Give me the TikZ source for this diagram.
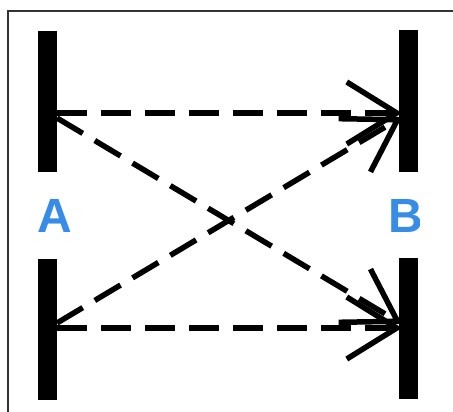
\documentclass[tikz,border=0pt]{standalone}
\usepackage{fontspec}
\setmainfont{Liberation Sans}
\usetikzlibrary{arrows.meta}
\definecolor{lblblue}{RGB}{55,140,232}
\begin{document}
\begin{tikzpicture}[x=1pt,y=-1pt,
  bar/.style={draw=none,fill=black,inner sep=0pt,minimum width=19pt,minimum height=141pt},
  lbl/.style={text=lblblue,font=\fontsize{48}{48}\selectfont\bfseries,inner sep=0pt},
  conn/.style={line width=5.5pt,dash pattern=on 30pt off 14pt,
    -{Straight Barb[length=50pt,width=62pt,line width=5.5pt]}}]
\useasboundingbox (0,0) rectangle (453,412);
\draw[line width=1.6pt,color=black!80] (8,412) -- (8,11) -- (453,11);
\node[bar] (a1) at (47.5,101.5) {};
\node[bar] (a2) at (47.5,329) {};
\node[bar] (b1) at (408.5,101) {};
\node[bar] (b2) at (408.5,328.5) {};
\node[lbl] (la) at (54.5,216) {A};
\begin{scope}
\clip (380,190) rectangle (419,240);
\node[lbl] (lb) at (406,216) {B};
\end{scope}
\coordinate (a1h) at (57,113);
\coordinate (a1d) at (57,118);
\coordinate (a2h) at (57,328);
\coordinate (a2d) at (57,323);
\coordinate (b1h) at (402,113);
\coordinate (b1d) at (402,117);
\coordinate (b2h) at (402,328);
\coordinate (b2d) at (402,324);
\draw[conn] (a1h) -- (b1h);
\draw[conn] (a2h) -- (b2h);
\draw[conn] (a1d) -- (b2d);
\draw[conn] (a2d) -- (b1d);
\end{tikzpicture}
\end{document}
